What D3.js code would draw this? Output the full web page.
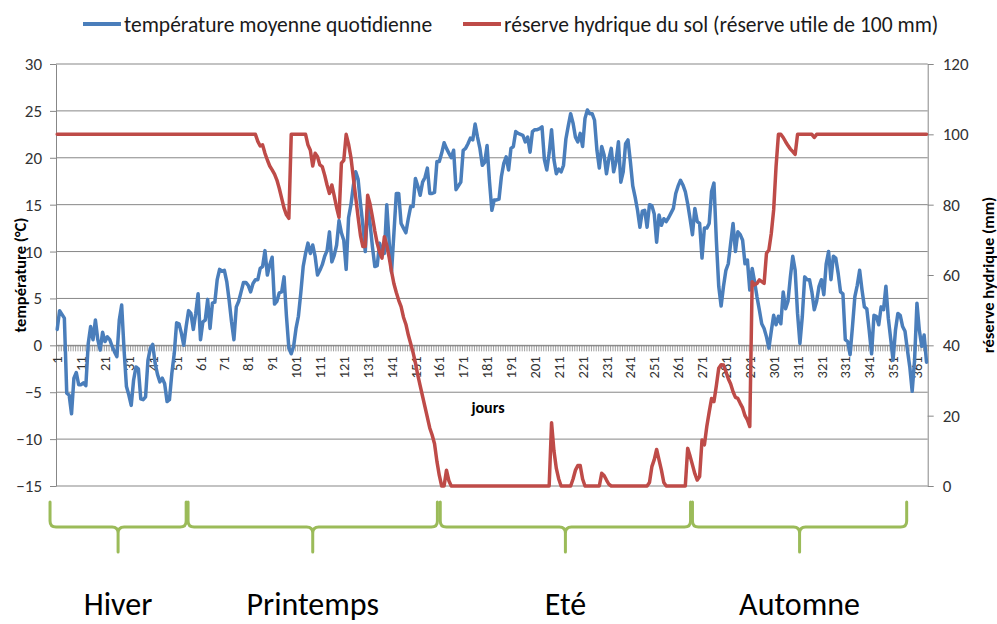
<!DOCTYPE html>
<html>
<head>
<meta charset="utf-8">
<script src="https://cdn.jsdelivr.net/npm/d3@7"></script>
<style>
  body { margin: 0; background: #fff; }
  svg { display: block; }
  text { font-family: Carlito, Lato, "Open Sans", sans-serif; }
</style>
</head>
<body>
<svg id="chart" width="997" height="624"></svg>
<script>
// Daily mean temperature (°C), days 1..365
const temperature = [
  1.7, 3.7, 3.3, 2.9, -5.1, -5.3, -7.3, -3.5, -2.9, -4.2,
  -4.2, -4.0, -4.3, 0.2, 2.0, 0.6, 2.7, 0.6, -0.5, 1.4,
  0.4, 0.9, 0.6, -0.1, -0.7, -1.2, 2.7, 4.3, -0.5, -4.4,
  -5.3, -6.4, -3.7, -2.3, -2.5, -5.7, -5.8, -5.5, -1.6, -0.3,
  0.1, -1.9, -3.1, -3.9, -3.5, -4.1, -6.0, -5.8, -3.0, -0.9,
  2.4, 2.3, 1.3, 0.0, 2.0, 3.7, 3.4, 1.7, 3.4, 5.5,
  0.6, 2.5, 2.7, 4.9, 1.8, 4.5, 4.6, 7.0, 8.1, 7.9,
  8.0, 6.8, 4.8, 2.5, 0.6, 4.1, 4.7, 5.7, 6.7, 6.7,
  6.4, 5.7, 6.6, 7.0, 7.0, 8.2, 8.4, 10.1, 7.5, 8.6,
  9.4, 4.4, 4.7, 5.6, 5.7, 7.3, 3.1, -0.3, -0.9, -0.1,
  1.8, 3.1, 5.6, 8.4, 9.8, 10.9, 9.8, 10.7, 9.5, 7.5,
  8.0, 8.6, 9.5, 10.1, 12.1, 8.9, 9.6, 10.7, 13.3, 12.0,
  11.2, 8.1, 13.6, 15.0, 17.0, 18.5, 17.7, 15.1, 12.8, 10.0,
  15.0, 13.0, 10.5, 8.4, 8.5, 10.9, 10.0, 9.8, 15.0, 11.0,
  7.8, 12.0, 16.2, 16.2, 13.0, 12.5, 12.0, 13.5, 14.8, 14.8,
  17.8, 17.0, 16.0, 17.4, 17.9, 18.9, 16.2, 16.2, 16.3, 19.6,
  19.6, 20.5, 21.6, 21.0, 20.5, 20.0, 20.8, 16.6, 17.0, 17.4,
  20.8, 21.0, 21.5, 22.1, 21.9, 23.6, 22.2, 21.0, 19.2, 19.5,
  21.3, 17.5, 14.4, 15.5, 15.5, 15.6, 18.0, 19.4, 20.1, 18.7,
  21.0, 21.2, 22.8, 22.6, 22.5, 22.4, 21.7, 22.2, 20.6, 22.8,
  23.0, 23.0, 23.1, 23.3, 19.8, 18.7, 20.5, 23.0, 19.8, 18.3,
  18.8, 18.5, 19.2, 22.0, 23.4, 24.7, 23.7, 22.2, 21.7, 22.6,
  21.2, 24.2, 25.1, 24.7, 24.7, 24.0, 20.8, 18.9, 21.2, 20.3,
  18.3, 19.9, 21.0, 18.5, 19.6, 21.7, 17.4, 18.5, 21.5, 21.9,
  19.6, 17.0, 15.8, 14.4, 12.6, 14.3, 14.4, 12.6, 15.0, 14.9,
  14.0, 11.0, 13.9, 12.8, 13.5, 13.2, 13.6, 14.1, 14.6, 16.2,
  17.0, 17.6, 17.1, 16.4, 15.1, 13.5, 11.8, 14.6, 13.2, 13.0,
  9.3, 12.5, 12.5, 13.0, 16.4, 17.3, 11.2, 6.3, 4.2, 6.3,
  8.0, 8.7, 10.9, 13.0, 10.0, 12.1, 11.8, 11.2, 8.7, 9.1,
  5.9, 8.2, 6.8, 5.2, 3.8, 2.3, 1.8, 0.9, -0.3, 1.5,
  3.2, 2.2, 3.1, 2.3, 5.7, 3.9, 4.7, 7.3, 9.5, 8.0,
  3.4, 0.2, 3.1, 7.3, 7.0, 7.0, 5.7, 3.8, 4.7, 6.3,
  7.0, 5.4, 8.7, 10.0, 7.0, 9.5, 9.3, 7.7, 5.7, 5.5,
  0.6, 0.4, -1.0, 2.0, 5.2, 6.4, 8.0, 5.9, 4.1, 3.9,
  1.6, -0.9, 3.2, 3.1, 2.2, 4.1, 3.8, 6.3, 2.9, 0.7,
  -1.6, 1.6, 3.4, 3.2, 2.0, 1.5, -0.5, -2.3, -4.9, -1.6,
  4.5, 1.6, -0.1, 1.1, -1.8
];

// Soil water reserve (mm), days 1..365, usable reserve capped at 100 mm
const reserve = [
  100, 100, 100, 100, 100, 100, 100, 100, 100, 100,
  100, 100, 100, 100, 100, 100, 100, 100, 100, 100,
  100, 100, 100, 100, 100, 100, 100, 100, 100, 100,
  100, 100, 100, 100, 100, 100, 100, 100, 100, 100,
  100, 100, 100, 100, 100, 100, 100, 100, 100, 100,
  100, 100, 100, 100, 100, 100, 100, 100, 100, 100,
  100, 100, 100, 100, 100, 100, 100, 100, 100, 100,
  100, 100, 100, 100, 100, 100, 100, 100, 100, 100,
  100, 100, 100, 100, 98.0, 96.7, 97.0, 94.6, 92.7, 91.0,
  89.9, 88.7, 87.0, 84.6, 81.8, 79.0, 77.1, 76.1, 100, 100,
  100, 100, 100, 100, 100, 97.0, 95.5, 91.0, 94.6, 93.6,
  91.3, 90.8, 88.4, 85.6, 83.2, 85.6, 82.5, 79.2, 76.4, 91.8,
  92.6, 100, 97.2, 93.4, 87.7, 82.0, 76.4, 71.2, 68.1, 68.1,
  82.7, 80.2, 76.5, 72.5, 69.0, 66.5, 64.8, 70.9, 68.5, 65.0,
  61.0, 57.5, 55.0, 52.8, 51.0, 48.0, 46.0, 43.0, 40.5, 38.0,
  35.0, 31.5, 28.5, 25.5, 22.5, 19.5, 16.5, 14.5, 12.0, 7.0,
  3.0, 0, 0, 4.5, 1.5, 0, 0, 0, 0, 0,
  0, 0, 0, 0, 0, 0, 0, 0, 0, 0,
  0, 0, 0, 0, 0, 0, 0, 0, 0, 0,
  0, 0, 0, 0, 0, 0, 0, 0, 0, 0,
  0, 0, 0, 0, 0, 0, 0, 18.0, 10.0, 5.0,
  2.0, 0, 0, 0, 0, 0, 2.0, 4.5, 5.8, 5.8,
  2.0, 0, 0, 0, 0, 0, 0, 0, 3.6, 3.0,
  1.7, 0.5, 0, 0, 0, 0, 0, 0, 0, 0,
  0, 0, 0, 0, 0, 0, 0, 0, 1.0, 5.5,
  7.5, 10.4, 7.4, 4.5, 1.0, 0, 0, 0, 0, 0,
  0, 0, 0, 0, 10.7, 8.5, 6.0, 3.5, 1.7, 2.7,
  13.1, 11.7, 16.9, 21.0, 24.9, 24.0, 28.5, 33.5, 34.5, 34.4,
  32.5, 30.5, 29.0, 26.8, 25.2, 24.9, 23.5, 22.2, 20.0, 18.8,
  16.9, 58.1, 57.2, 57.6, 58.6, 58.1, 57.6, 66.2, 67.1, 71.8,
  78.5, 90.8, 100, 100, 99.1, 97.9, 96.8, 95.8, 95.1, 94.3,
  100, 100, 100, 100, 100, 100, 100, 99.1, 100, 100,
  100, 100, 100, 100, 100, 100, 100, 100, 100, 100,
  100, 100, 100, 100, 100, 100, 100, 100, 100, 100,
  100, 100, 100, 100, 100, 100, 100, 100, 100, 100,
  100, 100, 100, 100, 100, 100, 100, 100, 100, 100,
  100, 100, 100, 100, 100
];

const tempTicks = [-15, -10, -5, 0, 5, 10, 15, 20, 25, 30];
const reserveTicks = [0, 20, 40, 60, 80, 100, 120];
const dayLabels = [1, 11, 21, 31, 41, 51, 61, 71, 81, 91, 101, 111, 121, 131, 141, 151, 161, 171,
                   181, 191, 201, 211, 221, 231, 241, 251, 261, 271, 281, 291, 301, 311, 321, 331, 341, 351, 361];
const seriesNames = ["température moyenne quotidienne", "réserve hydrique du sol (réserve utile de 100 mm)"];
const axisTitles = { temp: "température (°C)", reserve: "réserve hydrique (mm)", days: "jours" };
// Season brackets, in day units along the horizontal axis
const seasonNames = ["Hiver", "Printemps", "Eté", "Automne"];
const seasonStart = [-2.0, 55.8, 161.4, 267.0];
const seasonEnd = [55.0, 160.2, 266.2, 356.7];

const svg = d3.select("#chart");
const plot = { left: 56, right: 927.7, top: 64, bottom: 486 };
const gridColor = "#878787";
const textColor = "#333333";
const blue = "#4A7EBB";
const red = "#BE4B48";
const green = "#9BBB59";

const x = d3.scaleLinear().domain([0.5, temperature.length + 0.5]).range([plot.left, plot.right]);
const yT = d3.scaleLinear().domain([-15, 30]).range([plot.bottom, plot.top]);
const yR = d3.scaleLinear().domain([0, 120]).range([plot.bottom, plot.top]);

// Horizontal gridlines on the temperature scale
svg.append("g").selectAll("line").data(tempTicks).join("line")
  .attr("x1", plot.left).attr("x2", plot.right)
  .attr("y1", d => yT(d)).attr("y2", d => yT(d))
  .attr("stroke", gridColor).attr("stroke-width", 1);

// Left axis (temperature)
const leftAxis = svg.append("g").attr("transform", `translate(${plot.left},0)`)
  .call(d3.axisLeft(yT).tickValues(tempTicks).tickSize(6).tickSizeOuter(0).tickPadding(8));
leftAxis.selectAll("text").attr("font-size", 17).attr("fill", textColor);

// Right axis (soil water reserve)
const rightAxis = svg.append("g").attr("transform", `translate(${plot.right},0)`)
  .call(d3.axisRight(yR).tickValues(reserveTicks).tickSize(6).tickSizeOuter(0).tickPadding(9));
rightAxis.selectAll("text").attr("font-size", 17).attr("fill", textColor);

[leftAxis, rightAxis].forEach(g => {
  g.select(".domain").attr("stroke", gridColor);
  g.selectAll(".tick line").attr("stroke", gridColor);
});

// Day axis crossing at 0 °C: one tick per day boundary
const y0 = yT(0);
const boundaries = d3.range(0, temperature.length + 1).map(k => k + 0.5);
const dayAxis = svg.append("g").attr("transform", `translate(0,${y0})`)
  .call(d3.axisBottom(x).tickValues(boundaries).tickFormat("").tickSize(6).tickSizeOuter(0));
dayAxis.select(".domain").attr("stroke", gridColor);
dayAxis.selectAll(".tick line").attr("stroke", gridColor).attr("stroke-width", 0.8);

svg.append("g").selectAll("text").data(dayLabels).join("text")
  .attr("transform", d => `translate(${x(d)},${y0 + 11}) rotate(-90)`)
  .attr("text-anchor", "end").attr("dy", "0.35em")
  .attr("font-size", 14.5).attr("fill", textColor)
  .text(d => d);

// Axis titles
svg.append("text")
  .attr("transform", `translate(20,${(plot.top + plot.bottom) / 2}) rotate(-90)`)
  .attr("text-anchor", "middle").attr("dy", "0.35em")
  .attr("font-size", 16.5).attr("font-weight", "bold").attr("fill", "#000")
  .text(axisTitles.temp);
svg.append("text")
  .attr("transform", `translate(988,${(plot.top + plot.bottom) / 2}) rotate(-90)`)
  .attr("text-anchor", "middle").attr("dy", "0.35em")
  .attr("font-size", 16.5).attr("font-weight", "bold").attr("fill", "#000")
  .text(axisTitles.reserve);
svg.append("text")
  .attr("x", 488).attr("y", 413)
  .attr("text-anchor", "middle")
  .attr("font-size", 16).attr("font-weight", "bold").attr("fill", "#000")
  .text(axisTitles.days);

// Series
const tempLine = d3.line().x((v, i) => x(i + 1)).y(v => yT(v));
const resLine = d3.line().x((v, i) => x(i + 1)).y(v => yR(v));

svg.append("path").datum(temperature)
  .attr("d", tempLine).attr("fill", "none")
  .attr("stroke", blue).attr("stroke-width", 3.5)
  .attr("stroke-linejoin", "round").attr("stroke-linecap", "round");

svg.append("path").datum(reserve)
  .attr("d", resLine).attr("fill", "none")
  .attr("stroke", red).attr("stroke-width", 3.5)
  .attr("stroke-linejoin", "round").attr("stroke-linecap", "round");

// Legend
const legendItems = [
  { name: seriesNames[0], color: blue, x: 83 },
  { name: seriesNames[1], color: red, x: 463 }
];
const legend = svg.append("g").selectAll("g").data(legendItems).join("g")
  .attr("transform", d => `translate(${d.x},24)`);
legend.append("line").attr("x1", 0).attr("x2", 38).attr("y1", 0).attr("y2", 0)
  .attr("stroke", d => d.color).attr("stroke-width", 4);
legend.append("text").attr("x", 41).attr("y", 0).attr("dy", "0.35em")
  .attr("font-size", 21.5).attr("fill", "#1a1a1a")
  .text(d => d.name);

// Season brackets under the chart
const seasons = seasonNames.map((name, i) => ({ name, start: seasonStart[i], end: seasonEnd[i] }));
const braceTop = 502, braceMid = 527, braceBottom = 552, r = 6;
function bracePath(s) {
  const a = x(s.start), b = x(s.end), m = (a + b) / 2;
  return `M${a},${braceTop} L${a},${braceMid - r} Q${a},${braceMid} ${a + r},${braceMid}` +
         ` L${m - r},${braceMid} Q${m},${braceMid} ${m},${braceMid + r} L${m},${braceBottom}` +
         ` M${m},${braceMid + r} Q${m},${braceMid} ${m + r},${braceMid}` +
         ` L${b - r},${braceMid} Q${b},${braceMid} ${b},${braceMid - r} L${b},${braceTop}`;
}
svg.append("g").selectAll("path").data(seasons).join("path")
  .attr("d", bracePath).attr("fill", "none")
  .attr("stroke", green).attr("stroke-width", 3)
  .attr("stroke-linejoin", "round").attr("stroke-linecap", "round");

svg.append("g").selectAll("text").data(seasons).join("text")
  .attr("x", s => (x(s.start) + x(s.end)) / 2).attr("y", 615)
  .attr("text-anchor", "middle")
  .attr("font-size", 32).attr("fill", "#000")
  .text(s => s.name);
</script>
</body>
</html>
